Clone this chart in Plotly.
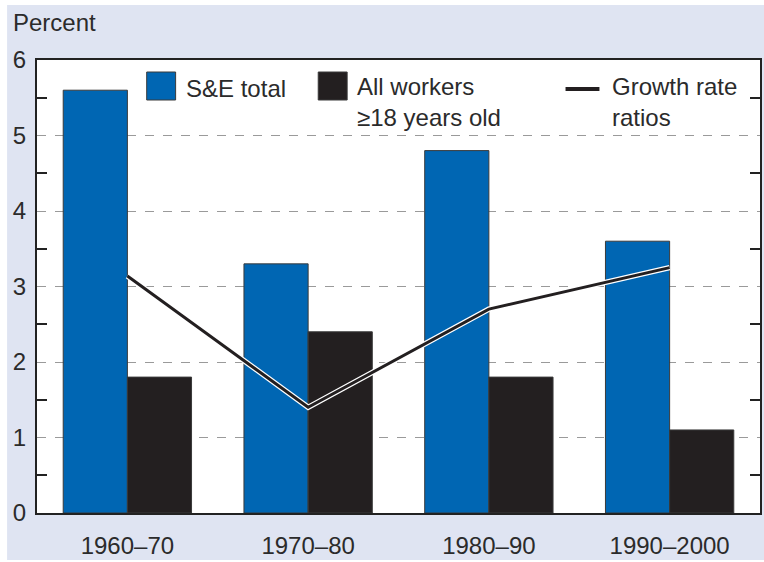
import plotly.graph_objects as go

categories = ["1960–70", "1970–80", "1980–90", "1990–2000"]
se_total = [5.6, 3.3, 4.8, 3.6]
all_workers = [1.8, 2.4, 1.8, 1.1]
growth_ratio = [3.14, 1.40, 2.70, 3.25]

BLUE = "#0066b3"
BLACK = "#231f20"
BG = "#dfe4f2"
TXT = "#2b2b2b"
FONT = "Liberation Sans, Arial, Helvetica, sans-serif"
FS = 24

fig = go.Figure()
fig.add_trace(go.Bar(x=categories, y=se_total, name="S&E total",
                     marker=dict(color=BLUE, line=dict(color="#3a3a3a", width=1))))
fig.add_trace(go.Bar(x=categories, y=all_workers, name="All workers ≥18 years old",
                     marker=dict(color=BLACK, line=dict(color="#3a3a3a", width=1))))
fig.add_trace(go.Scatter(x=categories, y=growth_ratio, mode="lines", yaxis="y2",
                         line=dict(color="white", width=5.5), hoverinfo="skip"))
fig.add_trace(go.Scatter(x=categories, y=growth_ratio, mode="lines", name="Growth rate ratios",
                         yaxis="y2", line=dict(color=BLACK, width=3)))

L, R, T, B = 37, 2, 60, 49
W, H = 764, 562
pw = W - L - R
ph = H - T - B


def px(x):
    return (x - L) / pw


def py(y):
    return (H - B - y) / ph


shapes = [
    dict(type="rect", xref="paper", yref="paper", x0=px(7), x1=px(766), y0=py(560), y1=py(5),
         fillcolor=BG, line=dict(width=0), layer="below"),
    dict(type="rect", xref="paper", yref="paper", x0=0, x1=1, y0=0, y1=1,
         fillcolor="white", line=dict(width=0), layer="below"),
    dict(type="rect", xref="paper", yref="paper", x0=px(147), x1=px(176), y0=py(100), y1=py(72),
         fillcolor=BLUE, line=dict(color="#3a3a3a", width=1)),
    dict(type="rect", xref="paper", yref="paper", x0=px(319), x1=px(348), y0=py(100), y1=py(72),
         fillcolor=BLACK, line=dict(color="#3a3a3a", width=1)),
    dict(type="line", xref="paper", yref="paper", x0=px(567), x1=px(601), y0=py(89), y1=py(89),
         line=dict(color=BLACK, width=4)),
]

annotations = [
    dict(text="Percent", xref="paper", yref="paper", x=px(11), y=py(22), xanchor="left",
         yanchor="middle", showarrow=False, font=dict(size=FS, color=TXT, family=FONT)),
    dict(text="S&E total", xref="paper", yref="paper", x=px(184), y=py(88), xanchor="left",
         yanchor="middle", showarrow=False, font=dict(size=FS, color=TXT, family=FONT)),
    dict(text="All workers<br>≥18 years old", xref="paper", yref="paper", x=px(356), y=py(102),
         xanchor="left", yanchor="middle", align="left", showarrow=False,
         font=dict(size=FS, color=TXT, family=FONT)),
    dict(text="Growth rate<br>ratios", xref="paper", yref="paper", x=px(612), y=py(102),
         xanchor="left", yanchor="middle", align="left", showarrow=False,
         font=dict(size=FS, color=TXT, family=FONT)),
]

half_ticks = [0.5, 1.5, 2.5, 3.5, 4.5, 5.5]

fig.update_layout(
    width=W, height=H,
    margin=dict(l=L, r=R, t=T, b=B, pad=0),
    paper_bgcolor="white",
    plot_bgcolor="rgba(0,0,0,0)",
    barmode="group",
    bargap=0.29,
    bargroupgap=0,
    showlegend=False,
    hovermode=False,
    font=dict(family=FONT, size=FS, color=TXT),
    shapes=shapes,
    annotations=annotations,
    xaxis=dict(showline=True, linecolor="#222", linewidth=2, mirror=True, ticks="",
               showgrid=False, tickfont=dict(size=FS, color=TXT), ticklabelstandoff=10),
    yaxis=dict(range=[0, 6], dtick=1, showline=True, linecolor="#222", linewidth=2, mirror=True,
               ticks="", showgrid=True, gridcolor="#9a9a9a", griddash="dash", gridwidth=1,
               zeroline=False, tickfont=dict(size=FS, color=TXT), ticklabelstandoff=4,
               minor=dict(ticks="inside", ticklen=10, tickwidth=2, tickcolor="#222", dtick=0.5,
                          showgrid=False)),
    yaxis2=dict(range=[0, 6], overlaying="y", side="right", tickvals=half_ticks,
                ticks="inside", ticklen=10, tickwidth=2, tickcolor="#222",
                showticklabels=False, showgrid=False, zeroline=False, showline=False),
)

fig.write_html("out.html", config={"displayModeBar": False},
               post_script="document.body.style.margin='0';")
